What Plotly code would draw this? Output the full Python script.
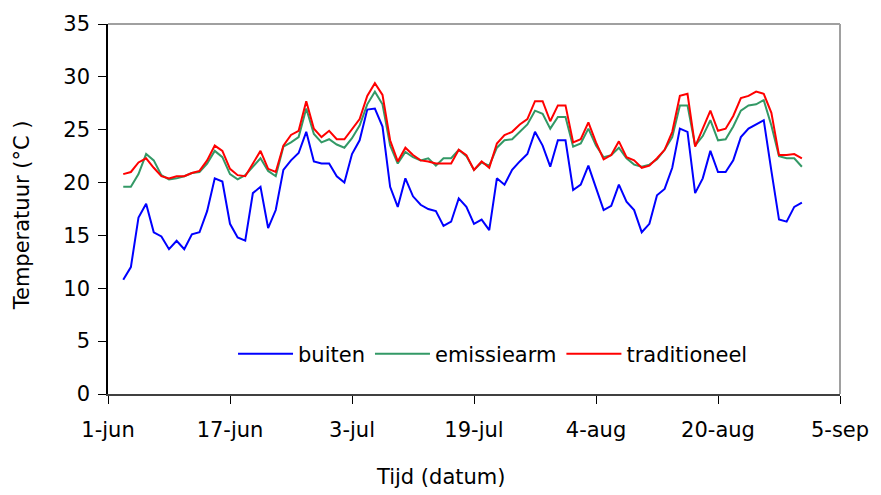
import plotly.graph_objects as go
import pandas as pd

start_date = "2003-06-03"

buiten = [10.8, 12.0, 16.7, 18.0, 15.3, 14.9, 13.7, 14.5, 13.7, 15.1,
          15.3, 17.3, 20.4, 20.1, 16.1, 14.8, 14.5, 19.0, 19.6, 15.7,
          17.4, 21.2, 22.1, 22.8, 24.8, 22.0, 21.8, 21.8, 20.6, 20.0,
          22.7, 24.0, 26.9, 27.0, 25.3, 19.6, 17.7, 20.4, 18.7, 17.9,
          17.5, 17.3, 15.9, 16.3, 18.5, 17.7, 16.1, 16.5, 15.5, 20.4,
          19.8, 21.2, 22.0, 22.7, 24.8, 23.5, 21.5, 24.0, 24.0, 19.3,
          19.8, 21.6, 19.5, 17.4, 17.8, 19.8, 18.2, 17.4, 15.3, 16.1,
          18.8, 19.4, 21.4, 25.1, 24.8, 19.0, 20.4, 23.0, 21.0, 21.0,
          22.1, 24.3, 25.1, 25.5, 25.9, 21.1, 16.5, 16.3, 17.7, 18.1]

emissiearm = [19.6, 19.6, 20.8, 22.7, 22.1, 20.7, 20.3, 20.4, 20.6, 20.9,
              21.0, 21.8, 23.0, 22.4, 20.8, 20.3, 20.7, 21.5, 22.3, 21.1,
              20.6, 23.4, 23.8, 24.3, 27.0, 24.6, 23.8, 24.1, 23.6, 23.3,
              24.2, 25.4, 27.4, 28.6, 27.4, 23.5, 21.8, 22.9, 22.4, 22.1,
              22.3, 21.6, 22.3, 22.3, 23.1, 22.5, 21.2, 21.9, 21.6, 23.3,
              24.0, 24.1, 24.8, 25.5, 26.8, 26.5, 25.1, 26.2, 26.2, 23.4,
              23.7, 25.1, 23.5, 22.4, 22.6, 23.3, 22.3, 21.7, 21.5, 21.7,
              22.2, 23.1, 24.3, 27.3, 27.3, 23.5, 24.4, 25.9, 24.0, 24.1,
              25.3, 26.8, 27.3, 27.4, 27.8, 25.4, 22.5, 22.3, 22.3, 21.5]

traditioneel = [20.8, 21.0, 21.9, 22.3, 21.4, 20.6, 20.4, 20.6, 20.6, 20.9,
                21.1, 22.1, 23.5, 23.0, 21.3, 20.7, 20.6, 21.8, 23.0, 21.3,
                21.0, 23.5, 24.5, 24.9, 27.7, 25.1, 24.3, 24.9, 24.1, 24.1,
                25.1, 26.0, 28.2, 29.4, 28.3, 24.0, 22.0, 23.3, 22.6, 22.1,
                22.0, 21.8, 21.8, 21.8, 23.1, 22.6, 21.2, 22.0, 21.4, 23.7,
                24.5, 24.8, 25.5, 26.0, 27.7, 27.7, 25.8, 27.3, 27.3, 23.8,
                24.1, 25.7, 23.8, 22.2, 22.6, 23.9, 22.4, 22.1, 21.4, 21.6,
                22.3, 23.1, 24.8, 28.2, 28.4, 23.4, 25.1, 26.8, 24.9, 25.1,
                26.3, 28.0, 28.2, 28.6, 28.4, 26.6, 22.6, 22.6, 22.7, 22.3]

tick_dates = ["2003-06-01", "2003-06-17", "2003-07-03", "2003-07-19",
              "2003-08-04", "2003-08-20", "2003-09-05"]
tick_labels = ["1-jun", "17-jun", "3-jul", "19-jul", "4-aug", "20-aug", "5-sep"]

dates = pd.date_range(start_date, periods=len(buiten), freq="D")

FONT = "DejaVu Sans, Liberation Sans, Arial, sans-serif"
FS = 21

fig = go.Figure()
fig.add_trace(go.Scatter(x=dates, y=buiten, mode="lines", name="buiten",
                         line=dict(color="#0000FF", width=2)))
fig.add_trace(go.Scatter(x=dates, y=emissiearm, mode="lines", name="emissiearm",
                         line=dict(color="#339966", width=2)))
fig.add_trace(go.Scatter(x=dates, y=traditioneel, mode="lines", name="traditioneel",
                         line=dict(color="#FF0000", width=2)))

fig.update_layout(
    width=881, height=495,
    margin=dict(l=108, r=34, t=23, b=101),
    paper_bgcolor="white", plot_bgcolor="white",
    font=dict(family=FONT, size=FS, color="black"),
    showlegend=True,
    legend=dict(orientation="h", x=0.526, y=0.108, xanchor="center", yanchor="middle",
                bgcolor="rgba(0,0,0,0)", font=dict(size=FS), itemwidth=55),
    xaxis=dict(range=[tick_dates[0], tick_dates[-1]], tickmode="array",
               tickvals=tick_dates, ticktext=tick_labels,
               showgrid=False, zeroline=False, showline=True,
               linecolor="#404040", linewidth=2,
               ticks="outside", ticklen=8, tickcolor="black", tickwidth=1,
               ticklabelstandoff=8, tickfont=dict(size=FS)),
    yaxis=dict(range=[0, 35], tickmode="array", tickvals=[0, 5, 10, 15, 20, 25, 30, 35],
               showgrid=False, zeroline=False, showline=True,
               linecolor="black", linewidth=1.5,
               ticks="outside", ticklen=8, tickcolor="black", tickwidth=1,
               ticklabelstandoff=4, tickfont=dict(size=FS)),
    shapes=[
        dict(type="line", xref="paper", yref="paper", x0=0, x1=1, y0=1, y1=1,
             line=dict(color="#A0A0A0", width=2)),
        dict(type="line", xref="paper", yref="paper", x0=1, x1=1, y0=0, y1=1,
             line=dict(color="#A0A0A0", width=2)),
    ],
    annotations=[
        dict(text="Tijd (datum)", xref="paper", yref="paper", x=0.4547, y=-0.2237,
             xanchor="center", yanchor="middle", showarrow=False,
             font=dict(size=FS)),
        dict(text="Temperatuur (°C )", xref="paper", yref="paper", x=-0.1164, y=0.4825,
             xanchor="center", yanchor="middle", showarrow=False, textangle=-90,
             font=dict(size=FS)),
    ],
)

fig.write_html("out.html")
